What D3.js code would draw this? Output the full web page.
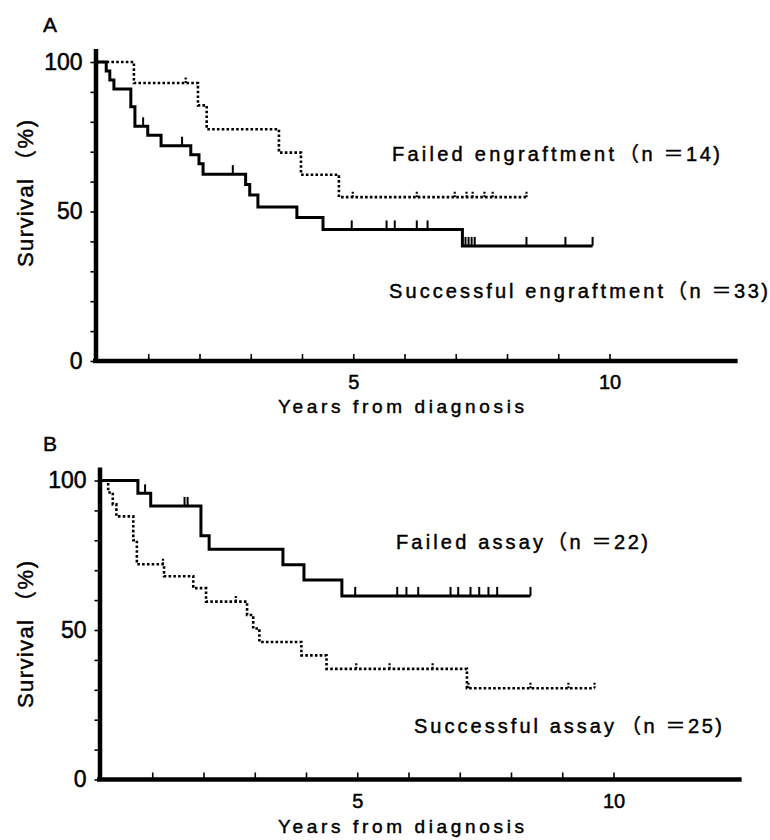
<!DOCTYPE html>
<html>
<head>
<meta charset="utf-8">
<script src="https://cdn.jsdelivr.net/npm/d3@7"></script>
<style>
  body { margin: 0; background: #fff; }
  svg { display: block; }
  text { fill: #000; }
</style>
</head>
<body>
<div id="chart"></div>
<script>
// panel A: successful engraftment (solid)
var engOkTimes = [0, 0.18, 0.25, 0.33, 0.66, 0.74, 0.99, 1.25, 1.83, 1.99, 2.07, 2.90, 2.98, 3.14, 3.90, 4.41, 7.13];
var engOkSurv = [100, 97, 94, 91, 85, 78.5, 75.5, 72, 69, 66, 62.5, 59, 55.5, 51.5, 48, 44, 38.5];
var engOkCensor = [0.90, 1.66, 2.65, 4.97, 5.65, 5.81, 6.24, 6.45, 7.19, 7.25, 7.31, 7.37, 8.38, 9.14, 9.67];
var engOkEnd = 9.67;

// panel A: failed engraftment (dotted)
var engFailTimes = [0, 0.72, 1.97, 2.14, 3.55, 3.98, 4.72];
var engFailSurv = [100, 93, 85.5, 77.5, 69.7, 62.3, 54.8];
var engFailCensor = [1.73, 4.99, 6.24, 6.98, 7.21, 7.33, 7.56, 7.72, 8.38];
var engFailEnd = 8.38;

// panel B: failed assay (solid)
var assayFailTimes = [0, 0.72, 0.97, 1.95, 2.11, 3.55, 3.96, 4.70];
var assayFailSurv = [100, 95.7, 91.5, 81.5, 77, 71.8, 66.7, 61.4];
var assayFailCensor = [0.86, 1.63, 1.69, 4.96, 5.78, 5.96, 6.19, 6.82, 6.97, 7.21, 7.38, 7.56, 7.73, 8.38];
var assayFailEnd = 8.38;

// panel B: successful assay (dotted)
var assayOkTimes = [0, 0.14, 0.23, 0.30, 0.63, 0.70, 1.23, 1.80, 2.05, 2.85, 2.97, 3.09, 3.91, 4.40, 7.14];
var assayOkSurv = [100, 96, 92, 88, 80, 72, 68, 64, 59.5, 55, 50.5, 46, 41.5, 37, 30.5];
var assayOkCensor = [1.21, 2.63, 4.98, 5.63, 6.47, 7.17, 8.38, 9.12, 9.63];
var assayOkEnd = 9.63;

var yTicks = d3.range(0, 101, 10);
var yLabels = [0, 50, 100];
var xTicks = d3.range(1, 11);
var xLabels = [5, 10];

var width = 770;
var height = 840;
var narrow = '"Liberation Sans Narrow", "Liberation Sans", Arial, sans-serif';
var sans = '"Liberation Sans", Arial, "Noto Sans CJK JP", sans-serif';

const svg = d3.select('#chart')
    .append('svg')
    .attr('width', width)
    .attr('height', height);

function kmPoints(times, surv, end) {
    var pts = times.map((t, i) => ({ t: t, s: surv[i] }));
    pts.push({ t: end, s: surv[surv.length - 1] });
    return pts;
}

function survAt(times, surv, t) {
    var s = surv[0];
    for (var i = 0; i < times.length; i++) {
        if (times[i] <= t) s = surv[i];
    }
    return s;
}

// scanned text looks heavier than plain Liberation Sans
function ink(sel, w) {
    return sel.attr('stroke', '#000').attr('stroke-width', w || 0.45);
}

function spaced(g, x, y, size, len, str) {
    return ink(g.append('text')
        .attr('x', x)
        .attr('y', y)
        .attr('font-family', sans)
        .attr('font-size', size)
        .attr('textLength', len)
        .attr('lengthAdjust', 'spacing')
        .text(str));
}

function drawPanel(p) {
    var x = d3.scaleLinear()
        .domain([0, 12.5])
        .range([p.x0, p.x0 + 51.25 * 12.5]);
    var y = d3.scaleLinear()
        .domain([0, 100])
        .range([p.y0, p.y0 - 299]);

    var g = svg.append('g');

    // y axis
    g.append('g')
        .attr('transform', `translate(${p.x0 - 1.5},0)`)
        .call(d3.axisLeft(y.copy().domain([0, 104.5]).range([p.y0, p.y0 - 299 * 1.045]))
            .tickValues(yTicks)
            .tickSizeInner(5)
            .tickSizeOuter(0)
            .tickPadding(8)
            .tickFormat(d => yLabels.includes(d) ? d : ''))
        .call(g => g.select('.domain').attr('stroke-width', 4.5))
        .call(g => g.selectAll('.tick line').attr('stroke-width', 1.6))
        .call(g => ink(g.selectAll('.tick text')
            .attr('font-family', narrow)
            .attr('font-size', 23)
            .attr('fill', '#000'), 0.5));

    // x axis
    g.append('g')
        .attr('transform', `translate(0,${p.y0})`)
        .call(d3.axisBottom(x)
            .tickValues(xTicks)
            .tickSizeInner(-7)
            .tickSizeOuter(0)
            .tickPadding(14)
            .tickFormat(d => xLabels.includes(d) ? d : ''))
        .call(g => g.select('.domain')
            .attr('stroke-width', 4.5)
            .attr('d', `M${p.x0 - 4},0H${x(12.5)}`))
        .call(g => g.selectAll('.tick line').attr('stroke-width', 1.6))
        .call(g => ink(g.selectAll('.tick text')
            .attr('font-family', narrow)
            .attr('font-size', 20)
            .attr('fill', '#000'), 0.5));

    var line = d3.line()
        .curve(d3.curveStepAfter)
        .x(d => x(d.t))
        .y(d => y(d.s));

    p.curves.forEach(c => {
        g.append('path')
            .datum(kmPoints(c.times, c.surv, c.end))
            .attr('fill', 'none')
            .attr('stroke', '#000')
            .attr('stroke-width', c.dotted ? 2.6 : 3)
            .attr('stroke-dasharray', c.dotted ? '2.6,2.2' : null)
            .attr('d', line);

        g.selectAll(null)
            .data(c.censor)
            .join('line')
            .attr('x1', d => x(d))
            .attr('x2', d => x(d))
            .attr('y1', d => y(survAt(c.times, c.surv, d)))
            .attr('y2', d => y(survAt(c.times, c.surv, d)) - (c.dotted ? 6 : 9))
            .attr('stroke', '#000')
            .attr('stroke-width', c.dotted ? 2.2 : 2)
            .attr('stroke-dasharray', c.dotted ? '2,1.5' : null);
    });

    // panel letter
    ink(g.append('text')
        .attr('x', 43)
        .attr('y', p.letterY)
        .attr('font-family', sans)
        .attr('font-size', 21)
        .text(p.letter));

    // y title, written upward from its bottom end
    var yt = g.append('g')
        .attr('transform', `translate(33,${p.yTitleBottom}) rotate(-90)`);
    spaced(yt, 0, 0, 22, 88, 'Survival');
    spaced(yt, 95, 0, 22, 52, '（%)');

    // x title
    spaced(g, 278, p.xTitleY, 19, 246, 'Years from diagnosis');

    // curve labels: words, then the bracketed n
    p.labels.forEach(l => {
        spaced(g, l.x, l.y, 20, l.w, l.words);
        spaced(g, l.px - 11, l.y, 20, 101, l.n);
    });
}

drawPanel({
    letter: 'A', letterY: 32, x0: 97, y0: 361, yTitleBottom: 267, xTitleY: 413,
    curves: [
        { times: engFailTimes, surv: engFailSurv, censor: engFailCensor, end: engFailEnd, dotted: true },
        { times: engOkTimes, surv: engOkSurv, censor: engOkCensor, end: engOkEnd, dotted: false }
    ],
    labels: [
        { x: 392, y: 161, w: 222, px: 630, words: 'Failed engraftment', n: '（n ＝14)' },
        { x: 389, y: 298, w: 274, px: 678, words: 'Successful engraftment', n: '（n ＝33)' }
    ]
});

drawPanel({
    letter: 'B', letterY: 451, x0: 101, y0: 779.5, yTitleBottom: 708, xTitleY: 833,
    curves: [
        { times: assayOkTimes, surv: assayOkSurv, censor: assayOkCensor, end: assayOkEnd, dotted: true },
        { times: assayFailTimes, surv: assayFailSurv, censor: assayFailCensor, end: assayFailEnd, dotted: false }
    ],
    labels: [
        { x: 396, y: 549, w: 147, px: 558, words: 'Failed assay', n: '（n ＝22)' },
        { x: 414, y: 733, w: 200, px: 632, words: 'Successful assay', n: '（n ＝25)' }
    ]
});
</script>
</body>
</html>
